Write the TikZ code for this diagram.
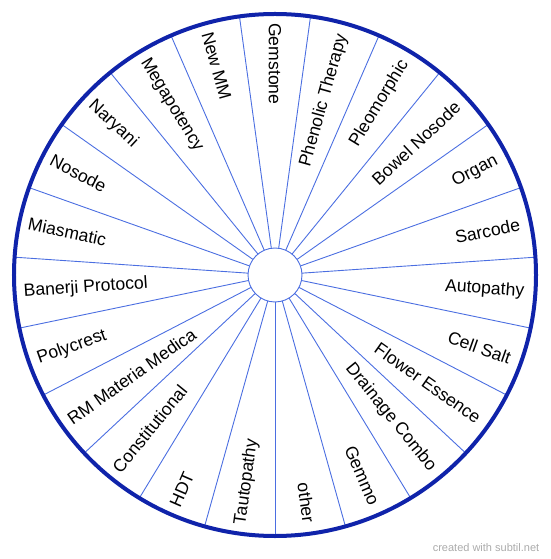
\documentclass[tikz,border=0pt]{standalone}
\usepackage{fontspec}
\setmainfont{Liberation Sans}
\usetikzlibrary{calc}
\definecolor{rimblue}{RGB}{15,35,170}
\definecolor{spokeblue}{RGB}{75,110,225}
\tikzset{
  wrim/.style={draw=rimblue, line width=4pt},
  wspoke/.style={draw=spokeblue, line width=0.9pt},
  whub/.style={circle, draw=spokeblue, line width=0.9pt, fill=white, minimum size=54pt, inner sep=0pt},
  wlabel/.style={font=\fontsize{17.6}{20}\selectfont, inner sep=0pt},
  wmark/.style={font=\fontsize{11}{13}\selectfont, text=black!33, inner sep=0pt}
}

\begin{document}
\begin{tikzpicture}[x=1pt,y=1pt]
\useasboundingbox (-275,-284) rectangle (275,275);
% spokes
\foreach \k in {0,...,22}
  \draw[wspoke] ({270+\k*360/23}:27) -- ({270+\k*360/23}:261);
\node[whub] (hub) at (0,0) {};
\draw[wrim] (0,0) circle (261);
% labels, clockwise from the top
\foreach \txt [count=\i from 0] in {Gemstone,Phenolic Therapy,Pleomorphic,Bowel Nosode,Organ,Sarcode,Autopathy,Cell Salt,Flower Essence,Drainage Combo,Gemmo,other,Tautopathy,HDT,Constitutional,RM Materia Medica,Polycrest,Banerji Protocol,Miasmatic,Nosode,Naryani,Megapotency,New MM}{
  \pgfmathsetmacro\ang{90-\i*360/23}
  \pgfmathtruncatemacro\outw{and(\i>0,\i<12)}
  \ifnum\outw=1
    \node[wlabel, rotate=\ang, anchor=east] (lbl\i) at (\ang:250) {\txt};
  \else
    \node[wlabel, rotate=\ang+180, anchor=west] (lbl\i) at (\ang:252) {\txt};
  \fi
}
\node[wmark] (credit) at (211,-273) {created with subtil.net};
\end{tikzpicture}
\end{document}
